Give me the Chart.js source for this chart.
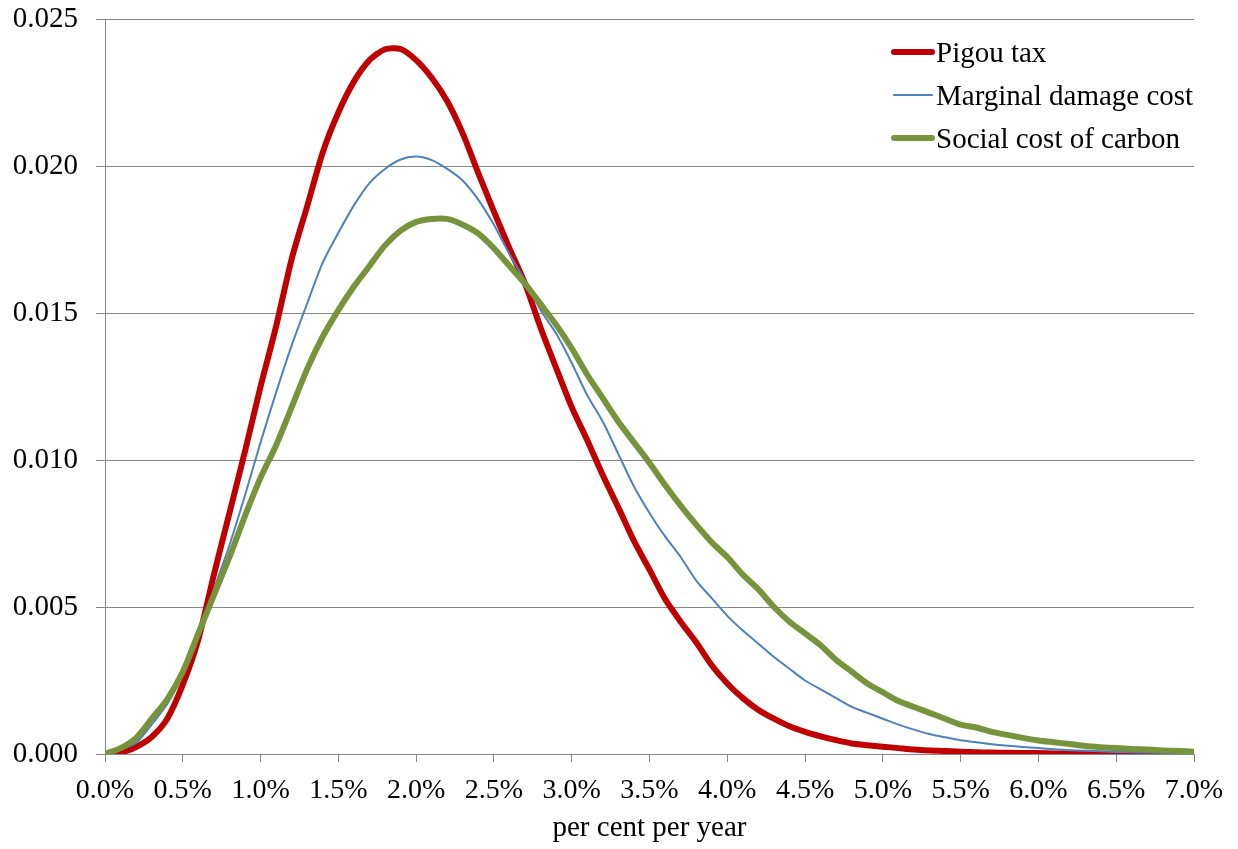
<!DOCTYPE html>
<html>
<head>
<meta charset="utf-8">
<script src="https://cdn.jsdelivr.net/npm/chart.js@4.4.1/dist/chart.umd.min.js"></script>
<style>
  html, body { margin: 0; padding: 0; background: #ffffff; }
  #wrap { width: 1238px; height: 849px; position: relative; }
</style>
</head>
<body>
<div id="wrap"><canvas id="c" width="1238" height="849"></canvas></div>
<script>
// x values: per cent per year
const rates = [
  0.0, 0.1, 0.2, 0.3, 0.4, 0.5, 0.6, 0.7, 0.8, 0.9,
  1.0, 1.1, 1.2, 1.3, 1.4, 1.5, 1.6, 1.7, 1.8, 1.9,
  2.0, 2.1, 2.2, 2.3, 2.4, 2.5, 2.6, 2.7, 2.8, 2.9,
  3.0, 3.1, 3.2, 3.3, 3.4, 3.5, 3.6, 3.7, 3.8, 3.9,
  4.0, 4.1, 4.2, 4.3, 4.4, 4.5, 4.6, 4.7, 4.8, 4.9,
  5.0, 5.1, 5.2, 5.3, 5.4, 5.5, 5.6, 5.7, 5.8, 5.9,
  6.0, 6.1, 6.2, 6.3, 6.4, 6.5, 6.6, 6.7, 6.8, 6.9,
  7.0
];

const pigouTax = [
  0.00000, 0.00005, 0.00024, 0.00058, 0.00120, 0.00236, 0.00390, 0.00610, 0.00820, 0.01030,
  0.01250, 0.01455, 0.01684, 0.01864, 0.02047, 0.02182, 0.02287, 0.02360, 0.02397, 0.02398,
  0.02360, 0.02300, 0.02220, 0.02110, 0.01975, 0.01845, 0.01720, 0.01600, 0.01450, 0.01313,
  0.01180, 0.01067, 0.00948, 0.00838, 0.00725, 0.00627, 0.00527, 0.00450, 0.00380, 0.00302,
  0.00240, 0.00190, 0.00150, 0.00120, 0.00094, 0.00075, 0.00060, 0.00047, 0.00036, 0.00030,
  0.00025, 0.00020, 0.00015, 0.00012, 0.00010, 0.00008, 0.00006, 0.00005, 0.00004, 0.00003,
  0.00003, 0.00002, 0.00002, 0.00002, 0.00001, 0.00001, 0.00001, 0.00001, 0.00001, 0.00000,
  0.00000
];

const marginalDamageCost = [
  0.00000, 0.00015, 0.00038, 0.00100, 0.00170, 0.00270, 0.00400, 0.00560, 0.00710, 0.00880,
  0.01060, 0.01230, 0.01390, 0.01533, 0.01672, 0.01773, 0.01866, 0.01942, 0.01990, 0.02022,
  0.02032, 0.02020, 0.01990, 0.01950, 0.01885, 0.01800, 0.01700, 0.01610, 0.01510, 0.01430,
  0.01330, 0.01220, 0.01130, 0.01020, 0.00910, 0.00820, 0.00740, 0.00670, 0.00590, 0.00530,
  0.00470, 0.00420, 0.00375, 0.00330, 0.00290, 0.00250, 0.00220, 0.00190, 0.00160, 0.00140,
  0.00120, 0.00100, 0.00083, 0.00068, 0.00057, 0.00047, 0.00040, 0.00033, 0.00028, 0.00024,
  0.00020, 0.00016, 0.00013, 0.00011, 0.00009, 0.00007, 0.00006, 0.00005, 0.00004, 0.00003,
  0.00002
];

const socialCostOfCarbon = [
  0.00000, 0.00020, 0.00055, 0.00120, 0.00186, 0.00280, 0.00410, 0.00540, 0.00670, 0.00810,
  0.00940, 0.01050, 0.01180, 0.01310, 0.01420, 0.01510, 0.01590, 0.01660, 0.01730, 0.01780,
  0.01810, 0.01820, 0.01820, 0.01800, 0.01770, 0.01720, 0.01660, 0.01600, 0.01530, 0.01460,
  0.01380, 0.01290, 0.01210, 0.01130, 0.01060, 0.00990, 0.00915, 0.00845, 0.00780, 0.00720,
  0.00670, 0.00610, 0.00560, 0.00500, 0.00450, 0.00410, 0.00370, 0.00320, 0.00280, 0.00240,
  0.00210, 0.00180, 0.00160, 0.00140, 0.00120, 0.00100, 0.00090, 0.00075, 0.00065, 0.00055,
  0.00046, 0.00040, 0.00034, 0.00027, 0.00023, 0.00020, 0.00017, 0.00015, 0.00012, 0.00010,
  0.00008
];

const seriesNames = ['Pigou tax', 'Marginal damage cost', 'Social cost of carbon'];
const xTickLabels = ['0.0%','0.5%','1.0%','1.5%','2.0%','2.5%','3.0%','3.5%','4.0%','4.5%','5.0%','5.5%','6.0%','6.5%','7.0%'];
const yTickLabels = ['0.000','0.005','0.010','0.015','0.020','0.025'];
const xAxisTitle = 'per cent per year';

const FONT = 'Liberation Serif';
const GRID = '#888888';

function pts(ys) { return rates.map((r, i) => ({ x: r, y: ys[i] })); }

const insideLegend = {
  id: 'insideLegend',
  afterDatasetsDraw(chart) {
    const ctx = chart.ctx;
    const ca = chart.chartArea;
    ctx.save();
    ctx.font = '29px "' + FONT + '"';
    ctx.textBaseline = 'middle';
    ctx.textAlign = 'left';
    chart.data.datasets.forEach((ds, i) => {
      const y = ca.top + 33 + i * 43;
      const x0 = ca.right - 300;
      ctx.strokeStyle = ds.borderColor;
      ctx.lineWidth = ds.borderWidth;
      ctx.lineCap = 'round';
      ctx.beginPath();
      ctx.moveTo(x0, y);
      ctx.lineTo(x0 + 38, y);
      ctx.stroke();
      ctx.fillStyle = '#000000';
      ctx.fillText(ds.label, x0 + 42, y + 2);
    });
    ctx.restore();
  }
};

new Chart(document.getElementById('c'), {
  type: 'line',
  data: {
    datasets: [
      { label: seriesNames[0], data: pts(pigouTax), borderColor: '#C00000', borderWidth: 6, order: 2 },
      { label: seriesNames[1], data: pts(marginalDamageCost), borderColor: '#4F81BD', borderWidth: 2, order: 1 },
      { label: seriesNames[2], data: pts(socialCostOfCarbon), borderColor: '#77933C', borderWidth: 6, order: 0 }
    ].map(d => Object.assign(d, {
      pointRadius: 0, fill: false, tension: 0.25,
      borderJoinStyle: 'round', borderCapStyle: 'round'
    }))
  },
  options: {
    responsive: false,
    animation: false,
    devicePixelRatio: 1,
    layout: { padding: { left: 0, right: 44, top: 19, bottom: 0 } },
    plugins: { legend: { display: false }, tooltip: { enabled: false } },
    scales: {
      x: {
        type: 'linear', min: 0, max: 7,
        ticks: {
          stepSize: 0.5, autoSkip: false, maxRotation: 0, minRotation: 0,
          padding: 12, color: '#000000', font: { family: FONT, size: 28 },
          callback: (v, i) => xTickLabels[i]
        },
        grid: { drawOnChartArea: false, drawTicks: true, tickLength: 8, color: GRID },
        border: { display: true, color: GRID, width: 1 },
        title: {
          display: true, text: xAxisTitle, color: '#000000',
          font: { family: FONT, size: 29 }, padding: { top: 0, bottom: 3 }
        },
        afterFit: s => { s.height = 95; s.paddingLeft = 0; s.paddingRight = 0; }
      },
      y: {
        type: 'linear', min: 0, max: 0.025,
        ticks: {
          stepSize: 0.005, padding: 18, color: '#000000', font: { family: FONT, size: 29 },
          callback: (v, i) => yTickLabels[i]
        },
        grid: { drawOnChartArea: true, drawTicks: true, tickLength: 9, color: GRID },
        border: { display: true, color: GRID, width: 1 },
        afterFit: s => { s.width = 105; s.paddingTop = 0; s.paddingBottom = 0; }
      }
    }
  },
  plugins: [insideLegend]
});
</script>
</body>
</html>
